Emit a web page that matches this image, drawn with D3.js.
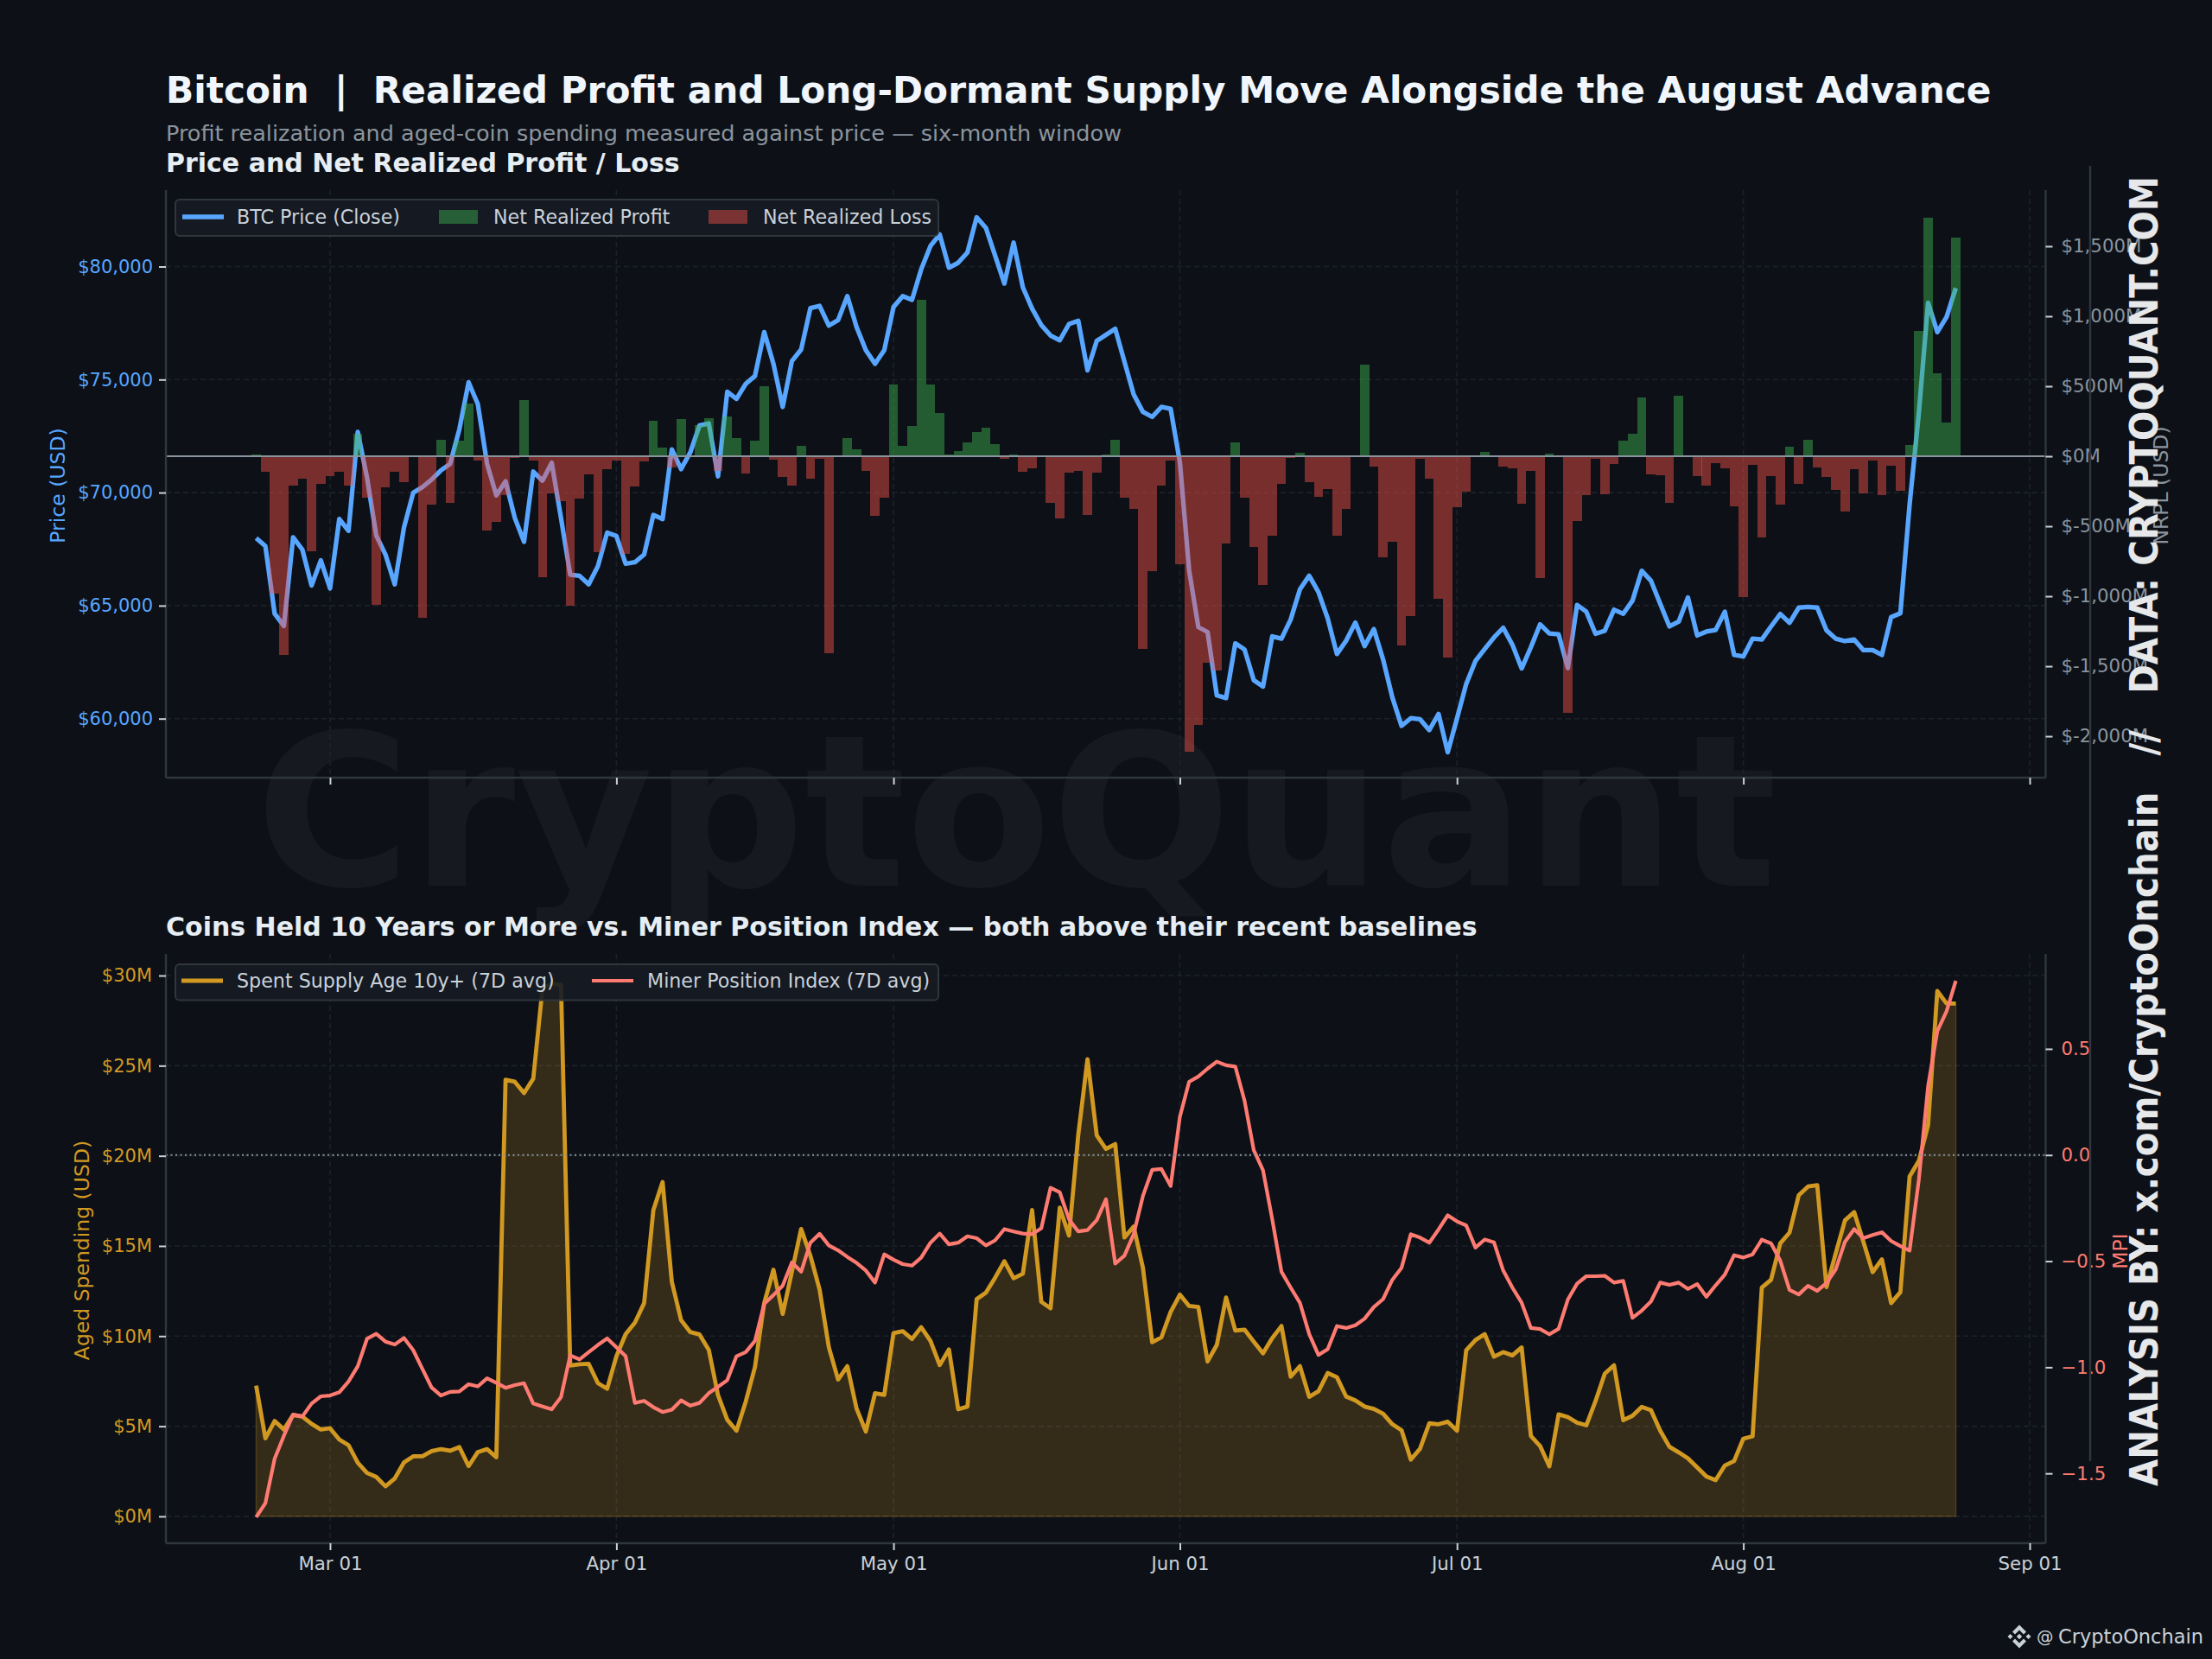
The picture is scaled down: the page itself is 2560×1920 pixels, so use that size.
<!DOCTYPE html>
<html>
<head>
<meta charset="utf-8">
<script src="https://cdn.jsdelivr.net/npm/d3@7"></script>
<style>
  html, body { margin: 0; padding: 0; background: #0d1117; }
  text { font-family: "DejaVu Sans", sans-serif; }
</style>
</head>
<body>
<svg id="chart" width="2560" height="1920"></svg>
<script>
// DATA, daily values (Feb 21 to Aug 24)
const startDay = new Date(Date.UTC(2026, 1, 21));
const endDay = new Date(Date.UTC(2026, 7, 25));

const btcPrice = [
  67990,67630,64650,64100,68020,67480,65890,67000,65760,68830,68310,72680,70670,68110,67260,65940,68450,69990,70240,70580,
  70980,71270,72800,74880,73910,71270,69880,70500,68880,67820,70930,70530,71320,68880,66370,66320,65940,66750,68230,68080,
  66850,66920,67260,69010,68830,71910,71040,71780,72970,73060,70720,74460,74150,74810,75160,77100,75700,73790,75820,76330,
  78160,78260,77390,77630,78690,77320,76300,75700,76300,78210,78690,78530,79880,80910,81420,79950,80170,80620,82180,81710,
  80480,79250,81060,79080,78140,77410,76950,76740,77460,77600,75410,76710,76980,77250,75790,74340,73570,73350,73790,73710,
  71350,66570,64050,63830,61030,60910,63330,63060,61700,61420,63640,63540,64390,65720,66320,65600,64440,62860,63450,64250,
  63210,63960,62620,60940,59680,60020,59970,59490,60210,58510,60010,61540,62550,63080,63590,64020,63270,62220,63160,64170,
  63770,63730,62240,65030,64730,63750,63890,64820,64640,65220,66540,66100,65080,64080,64290,65360,63680,63850,63920,64730,
  62820,62750,63540,63500,64080,64630,64240,64910,64940,64910,63910,63540,63430,63500,63030,63030,62820,64490,64660,69480,
  73520,78400,77100,77770,79050
];

const nrpl = [
  12,-113,-981,-1417,-207,-163,-678,-198,-143,-113,-209,160,-295,-1061,-223,-113,-187,-3,-1155,-347,
  116,-333,113,378,-30,-529,-466,-278,-11,402,-30,-863,-265,-322,-1067,-300,-132,-683,-94,-28,
  -697,-215,-36,254,61,-80,265,3,220,273,-102,287,127,-124,110,502,-25,-149,-212,72,
  -160,-19,-1406,0,132,47,-107,-424,-295,510,72,215,1116,515,306,14,36,96,171,201,
  85,-17,14,-113,-88,0,-333,-444,-119,-107,-419,-119,14,116,-295,-378,-1375,-821,-207,-28,
  -772,-2111,-1918,-1477,-1530,-626,96,-295,-648,-918,-570,-196,-11,25,-187,-289,-237,-570,-378,0,
  653,-77,-725,-612,-1350,-1144,-19,-163,-1020,-1439,-367,-256,0,33,0,-77,-85,-339,-102,-870,
  20,0,-1836,-465,-280,-20,-269,-54,110,161,419,-127,-133,-331,433,0,-144,-210,-48,-85,
  -360,-1009,-62,-581,-139,-348,68,-195,119,-82,-150,-241,-397,-93,-263,-31,-275,-65,-246,79,
  895,1703,592,241,1561
];

const spentSupply = [
  7.25,4.33,5.29,4.82,5.62,5.54,5.13,4.82,4.89,4.26,3.95,2.97,2.41,2.19,1.67,2.10,2.99,3.33,3.33,3.62,
  3.73,3.64,3.84,2.79,3.57,3.73,3.28,24.22,24.11,23.48,24.28,29.30,29.53,29.49,8.37,8.44,8.46,7.39,7.08,8.88,
  10.11,10.74,11.83,16.99,18.55,13.01,10.89,10.22,10.09,9.24,6.72,5.36,4.75,6.36,8.28,11.83,13.68,11.23,13.57,15.94,
  14.46,12.57,9.37,7.59,8.33,5.98,4.71,6.83,6.74,10.16,10.27,9.84,10.49,9.73,8.39,9.26,5.94,6.09,12.05,12.41,
  13.24,14.15,13.21,13.46,16.99,11.90,11.54,17.12,15.58,21.16,25.36,21.14,20.38,20.65,15.47,16.07,13.79,9.66,9.93,11.34,
  12.30,11.67,11.61,8.59,9.51,12.14,10.31,10.36,9.69,9.04,9.89,10.56,7.75,8.33,6.63,6.94,7.95,7.72,6.65,6.43,
  6.09,5.96,5.69,5.11,4.78,3.15,3.75,5.16,5.11,5.25,4.75,9.22,9.78,10.11,8.86,9.11,8.93,9.37,4.46,3.90,
  2.77,5.66,5.51,5.20,5.05,6.40,7.92,8.38,5.33,5.58,6.07,5.89,4.75,3.86,3.55,3.22,2.72,2.21,2.01,2.82,
  3.07,4.31,4.44,12.69,13.12,15.15,15.74,17.82,18.30,18.37,12.72,14.59,16.42,16.88,15.23,13.55,14.26,11.83,12.44,18.86,
  19.72,21.70,29.14,28.45,28.45
];

const mpi = [
  -1.706,-1.640,-1.431,-1.323,-1.223,-1.232,-1.171,-1.137,-1.133,-1.118,-1.067,-0.995,-0.866,-0.842,-0.879,-0.893,-0.862,-0.919,-1.008,-1.096,
  -1.133,-1.116,-1.114,-1.080,-1.090,-1.052,-1.073,-1.097,-1.084,-1.075,-1.171,-1.185,-1.198,-1.141,-0.944,-0.963,-0.929,-0.895,-0.864,-0.906,
  -0.948,-1.168,-1.158,-1.188,-1.211,-1.200,-1.156,-1.181,-1.168,-1.122,-1.092,-1.061,-0.948,-0.929,-0.876,-0.701,-0.660,-0.616,-0.506,-0.550,
  -0.413,-0.371,-0.426,-0.449,-0.480,-0.508,-0.544,-0.601,-0.468,-0.493,-0.514,-0.521,-0.483,-0.413,-0.370,-0.421,-0.413,-0.383,-0.392,-0.426,
  -0.402,-0.349,-0.360,-0.370,-0.373,-0.345,-0.154,-0.176,-0.303,-0.360,-0.354,-0.307,-0.208,-0.512,-0.474,-0.373,-0.193,-0.070,-0.066,-0.146,
  0.180,0.345,0.370,0.407,0.440,0.423,0.417,0.256,0.023,-0.072,-0.303,-0.550,-0.625,-0.697,-0.843,-0.942,-0.915,-0.806,-0.815,-0.802,
  -0.771,-0.716,-0.679,-0.588,-0.531,-0.373,-0.389,-0.413,-0.351,-0.284,-0.313,-0.332,-0.436,-0.398,-0.411,-0.544,-0.625,-0.696,-0.815,-0.820,
  -0.845,-0.819,-0.681,-0.606,-0.571,-0.571,-0.569,-0.601,-0.593,-0.767,-0.733,-0.690,-0.601,-0.612,-0.601,-0.631,-0.608,-0.668,-0.614,-0.563,
  -0.472,-0.483,-0.468,-0.399,-0.416,-0.498,-0.636,-0.657,-0.616,-0.640,-0.603,-0.539,-0.409,-0.349,-0.392,-0.377,-0.364,-0.405,-0.429,-0.450,
  -0.116,0.325,0.584,0.677,0.821
];

const priceTicks = [60000, 65000, 70000, 75000, 80000];
const nrplTicks = [-2000, -1500, -1000, -500, 0, 500, 1000, 1500];
const spentTicks = [0, 5, 10, 15, 20, 25, 30];
const mpiTicks = [-1.5, -1, -0.5, 0, 0.5];
const monthTicks = [
  new Date(Date.UTC(2026, 2, 1)), new Date(Date.UTC(2026, 3, 1)), new Date(Date.UTC(2026, 4, 1)),
  new Date(Date.UTC(2026, 5, 1)), new Date(Date.UTC(2026, 6, 1)), new Date(Date.UTC(2026, 7, 1)),
  new Date(Date.UTC(2026, 8, 1))
];

const days = d3.utcDay.range(startDay, endDay);

// colours
const BG = "#0d1117", SPINE = "#30363d", GRID = "#21262d", TICK = "#c9d1d9", MUTED = "#8b949e";
const BLUE = "#58a6ff", GREEN = "#3fb950", RED = "#f85149", AMBER = "#d29922", CORAL = "#ff7b72";

const svg = d3.select("#chart");
svg.append("rect").attr("width", 2560).attr("height", 1920).attr("fill", BG);

// big watermark sits behind everything
svg.append("text")
  .attr("x", 1176).attr("y", 1025)
  .attr("text-anchor", "middle")
  .attr("font-size", 245).attr("font-weight", "bold")
  .attr("fill", "#ffffff").attr("fill-opacity", 0.038)
  .text("CryptoQuant");

// panels
const left = 192, right = 2367.5;
const top1 = 220, bot1 = 900, top2 = 1104, bot2 = 1786;

const x = d3.scaleUtc()
  .domain([new Date(Date.UTC(2026, 1, 11, 5, 30)), new Date(Date.UTC(2026, 8, 2, 17, 30))])
  .range([left, right]);

const yPrice = d3.scaleLinear().domain([57389, 83383]).range([bot1, top1]);
const yNrpl = d3.scaleLinear().domain([-2296, 1901]).range([bot1, top1]);
const ySpent = d3.scaleLinear().domain([-1.49, 31.2]).range([bot2, top2]);
const yMpi = d3.scaleLinear().domain([-1.829, 0.9475]).range([bot2, top2]);

function drawGrid(yScale, ticks, y0, y1) {
  const g = svg.append("g").attr("stroke", GRID).attr("stroke-width", 1.6).attr("stroke-dasharray", "6,4").attr("stroke-opacity", 0.8);
  g.selectAll(".gy").data(ticks).join("line")
    .attr("x1", left).attr("x2", right)
    .attr("y1", d => yScale(d)).attr("y2", d => yScale(d));
  g.selectAll(".gx").data(monthTicks).join("line")
    .attr("x1", d => x(d)).attr("x2", d => x(d))
    .attr("y1", y0).attr("y2", y1);
}

function styleAxis(g, color, size) {
  g.select(".domain").remove();
  g.selectAll(".tick line").attr("stroke", TICK).attr("stroke-width", 2);
  g.selectAll(".tick text").attr("fill", color).attr("font-size", size).attr("font-family", "DejaVu Sans");
}

function drawSpines(y0, y1) {
  const g = svg.append("g").attr("stroke", SPINE).attr("stroke-width", 2.4);
  g.append("line").attr("x1", left).attr("x2", left).attr("y1", y0).attr("y2", y1);
  g.append("line").attr("x1", right).attr("x2", right).attr("y1", y0).attr("y2", y1);
  g.append("line").attr("x1", left).attr("x2", right).attr("y1", y1).attr("y2", y1);
}

// top panel
drawGrid(yPrice, priceTicks, top1, bot1);

svg.append("path")
  .datum(btcPrice)
  .attr("fill", "none").attr("stroke", BLUE).attr("stroke-width", 5.3).attr("stroke-linejoin", "round")
  .attr("d", d3.line().x((d, i) => x(days[i])).y(d => yPrice(d)));

const barW = 10.7;
svg.append("g").selectAll("rect").data(nrpl).join("rect")
  .attr("x", (d, i) => x(days[i]) - barW / 2)
  .attr("width", barW)
  .attr("y", d => yNrpl(Math.max(d, 0)))
  .attr("height", d => Math.abs(yNrpl(d) - yNrpl(0)))
  .attr("fill", d => d >= 0 ? GREEN : RED)
  .attr("fill-opacity", 0.45)
  .attr("shape-rendering", "crispEdges");

svg.append("line")
  .attr("x1", left).attr("x2", right)
  .attr("y1", yNrpl(0)).attr("y2", yNrpl(0))
  .attr("stroke", MUTED).attr("stroke-width", 2);

drawSpines(top1, bot1);

svg.append("g").attr("transform", `translate(${left},0)`)
  .call(d3.axisLeft(yPrice).tickValues(priceTicks).tickSize(8).tickPadding(7).tickFormat(d => "$" + d3.format(",")(d)))
  .call(styleAxis, BLUE, 21);

svg.append("g").attr("transform", `translate(${right},0)`)
  .call(d3.axisRight(yNrpl).tickValues(nrplTicks).tickSize(8).tickPadding(10).tickFormat(d => "$" + d3.format(",")(d).replace("−", "-") + "M"))
  .call(styleAxis, MUTED, 21.3);

svg.append("g").attr("transform", `translate(0,${bot1})`)
  .call(d3.axisBottom(x).tickValues(monthTicks).tickSize(8).tickFormat(""))
  .call(styleAxis, TICK, 21.3);

// bottom panel
drawGrid(ySpent, spentTicks, top2, bot2);

svg.append("path")
  .datum(spentSupply)
  .attr("fill", AMBER).attr("fill-opacity", 0.2)
  .attr("stroke", AMBER).attr("stroke-opacity", 0.25).attr("stroke-width", 1.5)
  .attr("d", d3.area().x((d, i) => x(days[i])).y0(ySpent(0)).y1(d => ySpent(d)));

svg.append("path")
  .datum(spentSupply)
  .attr("fill", "none").attr("stroke", AMBER).attr("stroke-width", 4.8).attr("stroke-linejoin", "round")
  .attr("d", d3.line().x((d, i) => x(days[i])).y(d => ySpent(d)));

svg.append("path")
  .datum(mpi)
  .attr("fill", "none").attr("stroke", CORAL).attr("stroke-width", 4.2).attr("stroke-linejoin", "round")
  .attr("d", d3.line().x((d, i) => x(days[i])).y(d => yMpi(d)));

svg.append("line")
  .attr("x1", left).attr("x2", right)
  .attr("y1", yMpi(0)).attr("y2", yMpi(0))
  .attr("stroke", MUTED).attr("stroke-width", 1.8).attr("stroke-dasharray", "2,3.5");

drawSpines(top2, bot2);

svg.append("g").attr("transform", `translate(${left},0)`)
  .call(d3.axisLeft(ySpent).tickValues(spentTicks).tickSize(8).tickPadding(8).tickFormat(d => "$" + d + "M"))
  .call(styleAxis, AMBER, 21);

svg.append("g").attr("transform", `translate(${right},0)`)
  .call(d3.axisRight(yMpi).tickValues(mpiTicks).tickSize(8).tickPadding(10).tickFormat(d3.format(".1f")))
  .call(styleAxis, CORAL, 21.3);

svg.append("g").attr("transform", `translate(0,${bot2})`)
  .call(d3.axisBottom(x).tickValues(monthTicks).tickSize(8).tickPadding(8).tickFormat(d3.utcFormat("%b %d")))
  .call(styleAxis, TICK, 21.3);

// legends
function legendBox(y0, y1) {
  svg.append("rect")
    .attr("x", 203).attr("y", y0).attr("width", 883).attr("height", y1 - y0).attr("rx", 5)
    .attr("fill", "#161b22").attr("fill-opacity", 0.9)
    .attr("stroke", SPINE).attr("stroke-width", 2);
}
function legendText(x0, y0, label) {
  svg.append("text").attr("x", x0).attr("y", y0).attr("dy", "0.35em")
    .attr("font-size", 22.2).attr("fill", TICK).text(label);
}
function legendLine(x0, x1, y0, color, w) {
  svg.append("line").attr("x1", x0).attr("x2", x1).attr("y1", y0).attr("y2", y0)
    .attr("stroke", color).attr("stroke-width", w);
}
function legendPatch(x0, y0, color) {
  svg.append("rect").attr("x", x0).attr("y", y0 - 8).attr("width", 45).attr("height", 16)
    .attr("fill", color).attr("fill-opacity", 0.45);
}

legendBox(231, 273);
legendLine(211, 259, 251, BLUE, 5.3);
legendText(274, 251, "BTC Price (Close)");
legendPatch(508, 251, GREEN);
legendText(571, 251, "Net Realized Profit");
legendPatch(820, 251, RED);
legendText(883, 251, "Net Realized Loss");

legendBox(1116, 1157.5);
legendLine(210, 258, 1135, AMBER, 4.8);
legendText(274, 1135, "Spent Supply Age 10y+ (7D avg)");
legendLine(685, 733, 1135, CORAL, 4.2);
legendText(749, 1135, "Miner Position Index (7D avg)");

// titles
svg.append("text").attr("x", 192).attr("y", 119)
  .attr("font-size", 42.25).attr("font-weight", "bold").attr("fill", "#f0f6fc")
  .attr("xml:space", "preserve")
  .text("Bitcoin  |  Realized Profit and Long-Dormant Supply Move Alongside the August Advance");
svg.append("text").attr("x", 192).attr("y", 163)
  .attr("font-size", 25.5).attr("fill", MUTED)
  .text("Profit realization and aged-coin spending measured against price — six-month window");
svg.append("text").attr("x", 192).attr("y", 199)
  .attr("font-size", 30).attr("font-weight", "bold").attr("fill", "#e6edf3")
  .text("Price and Net Realized Profit / Loss");
svg.append("text").attr("x", 192).attr("y", 1083)
  .attr("font-size", 30).attr("font-weight", "bold").attr("fill", "#e6edf3")
  .text("Coins Held 10 Years or More vs. Miner Position Index — both above their recent baselines");

// axis labels
function rotatedLabel(px, py, label, color, size) {
  svg.append("text")
    .attr("transform", `translate(${px},${py}) rotate(-90)`)
    .attr("text-anchor", "middle").attr("dy", "0.35em")
    .attr("font-size", size).attr("fill", color).text(label);
}
rotatedLabel(67, 562, "Price (USD)", BLUE, 23.5);
rotatedLabel(95, 1447, "Aged Spending (USD)", AMBER, 23.5);
rotatedLabel(2501, 562, "NRPL (USD)", MUTED, 23.5);
rotatedLabel(2454, 1448, "MPI", CORAL, 23.5);

// side strip
svg.append("line").attr("x1", 2419).attr("x2", 2419).attr("y1", 192).attr("y2", 1691)
  .attr("stroke", SPINE).attr("stroke-width", 2.4);
svg.append("text")
  .attr("transform", "translate(2482,1720) rotate(-90)")
  .attr("dy", "0.35em")
  .attr("xml:space", "preserve")
  .attr("textLength", 1516).attr("lengthAdjust", "spacingAndGlyphs")
  .attr("font-size", 44).attr("font-weight", "bold").attr("fill", "#e6e8ea")
  .text("ANALYSIS BY: x.com/CryptoOnchain   //   DATA: CRYPTOQUANT.COM");

// credit, bottom right
svg.append("text").attr("x", 2357).attr("y", 1894).attr("dy", "0.35em")
  .attr("font-size", 19.5).attr("fill", TICK).text("@");
svg.append("text").attr("x", 2382).attr("y", 1894).attr("dy", "0.35em")
  .attr("font-size", 22.5).attr("fill", TICK).text("CryptoOnchain");
const logo = svg.append("g").attr("fill", TICK).attr("transform", "translate(2337,1894)");
logo.append("path").attr("d", "M0,-13.5L8,-5.5L5,-2.5L0,-7.5L-5,-2.5L-8,-5.5Z");
logo.append("path").attr("d", "M0,13.5L8,5.5L5,2.5L0,7.5L-5,2.5L-8,5.5Z");
[[0, 0, 3.2], [-10.5, 0, 3], [10.5, 0, 3]].forEach(([cx, cy, r]) => {
  logo.append("path").attr("d", `M${cx},${cy - r}L${cx + r},${cy}L${cx},${cy + r}L${cx - r},${cy}Z`);
});
</script>
</body>
</html>
